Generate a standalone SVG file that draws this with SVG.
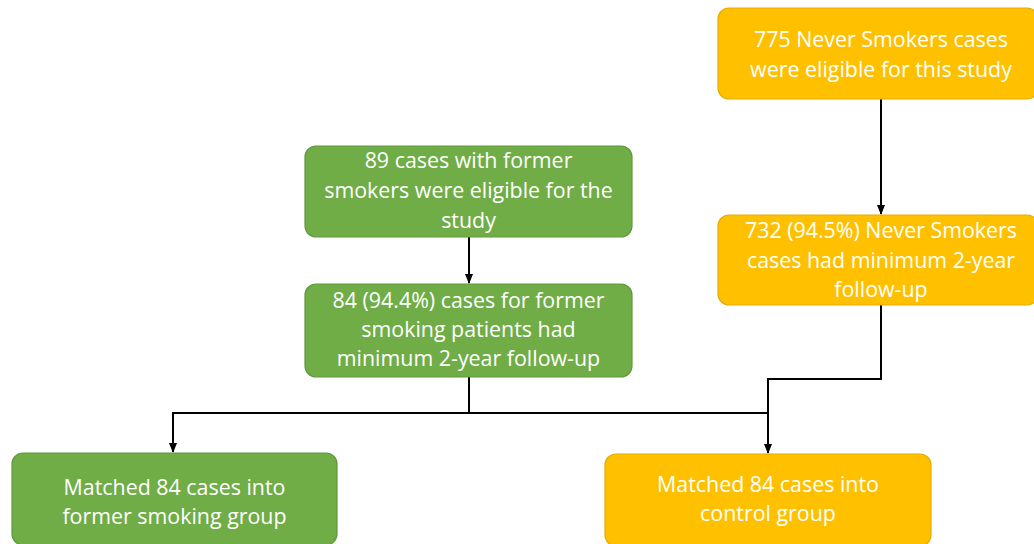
<svg xmlns="http://www.w3.org/2000/svg" width="1034" height="544" viewBox="0 0 1034 544">
<style>
.g{fill:#70AD47;stroke:#5E9A3A;stroke-width:1.2}
.y{fill:#FFC000;stroke:#E6AC00;stroke-width:1.2}
text{font-family:"Open Sans","Liberation Sans",sans-serif;font-size:21.4px;fill:#FFFFFF;text-anchor:middle}
.c{fill:none;stroke:#000;stroke-width:2}
</style>
<defs>
<marker id="ah" markerWidth="10" markerHeight="10" refX="9" refY="5" orient="auto" markerUnits="userSpaceOnUse">
<path d="M0,1 L10,5 L0,9 Z" fill="#000"/>
</marker>
</defs>
<rect width="1034" height="544" fill="#FFFFFF"/>
<g id="connectors">
<path class="c" d="M469,237 V283" marker-end="url(#ah)"/>
<path class="c" d="M881,99 V214" marker-end="url(#ah)"/>
<path class="c" d="M469,377 V413 H173 V452" marker-end="url(#ah)"/>
<path class="c" d="M469,413 H768"/>
<path class="c" d="M881,305 V379 H768 V453" marker-end="url(#ah)"/>
</g>
<g id="n1">
<rect class="y" x="718" y="8" width="320" height="91" rx="11"/>
<text x="881" y="47">775 Never Smokers cases</text>
<text x="881" y="77">were eligible for this study</text>
</g>
<g id="n2">
<rect class="y" x="718" y="215" width="320" height="90" rx="11"/>
<text x="881" y="238">732 (94.5%) Never Smokers</text>
<text x="881" y="268">cases had minimum 2-year</text>
<text x="881" y="297">follow-up</text>
</g>
<g id="n3">
<rect class="g" x="305" y="146" width="327" height="91" rx="11"/>
<text x="468.5" y="168">89 cases with former</text>
<text x="468.5" y="198">smokers were eligible for the</text>
<text x="468.5" y="228">study</text>
</g>
<g id="n4">
<rect class="g" x="305" y="284" width="327" height="93" rx="11"/>
<text x="468.5" y="308">84 (94.4%) cases for former</text>
<text x="468.5" y="337">smoking patients had</text>
<text x="468.5" y="366">minimum 2-year follow-up</text>
</g>
<g id="n5">
<rect class="g" x="12" y="453" width="325" height="92" rx="11"/>
<text x="174.5" y="495">Matched 84 cases into</text>
<text x="174.5" y="524">former smoking group</text>
</g>
<g id="n6">
<rect class="y" x="605" y="454" width="326" height="92" rx="11"/>
<text x="768" y="492">Matched 84 cases into</text>
<text x="768" y="521">control group</text>
</g>
</svg>
